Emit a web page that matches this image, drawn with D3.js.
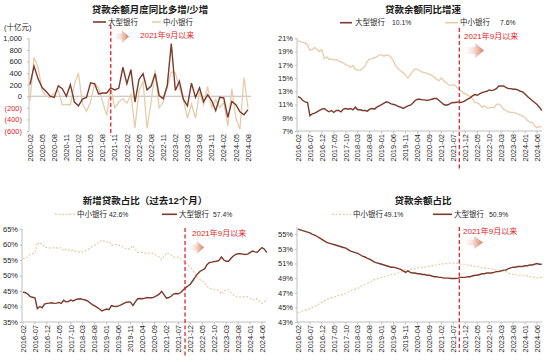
<!DOCTYPE html>
<html>
<head>
<meta charset="utf-8">
<script src="https://cdn.jsdelivr.net/npm/d3@7"></script>
<style>
  body { margin: 0; background: #fff; }
  text { font-family: "Liberation Sans", "Noto Sans CJK SC", sans-serif; }
</style>
</head>
<body>
<svg id="chart" width="550" height="362"></svg>
<script>
// month categories
function monthList(y, m, n) {
  let out = [];
  for (let i = 0; i < n; i++) {
    out.push(y + "-" + String(m).padStart(2, "0"));
    m++;
    if (m > 12) { m = 1; y++; }
  }
  return out;
}
let monthsShort = monthList(2020, 2, 55);   // 2020-02 .. 2024-08
let monthsLong = monthList(2016, 2, 103);   // 2016-02 .. 2024-08

// panel 1: 贷款余额月度同比多增/少增 (十亿元)
let bigDelta = [200, 520, 300, 150, 80, 0, -20, 180, 130, 0, 200,
  -100, -165, -50, -20, 230, 215, 40, 55, 55, 145, 110, 140,
  500, 215, 460, -100, 290, 390, 110, 175, 390, 10, -45, 185,
  910, 100, 260, -55, -165, 225, -20, 145, -95, 25, -75, -250,
  -20, -30, -365, -90, -145, -270, -320, -230];
let smallDelta = [-80, 670, 500, 100, 0, -20, 50, 100, -150, -140, -150,
  200, 400, -130, -260, -100, 230, 140, -100, -330, 150, -200, -100,
  -40, -120, 30, -550, 100, 250, -550, -100, 450, -200, -100, 150,
  420, 400, 150, -60, -380, -130, -380, 80, -150, 170, -200, -60,
  -200, -100, -520, 130, -380, -570, 320, -200];

// panel 2: 贷款余额同比增速 (%)
let bigGrowth = [12.2, 12.0, 11.6, 11.4, 11.3, 9.3, 9.6, 9.7, 9.9, 10.1, 10.3,
  10.4, 10.1, 9.9, 10.1, 9.8, 10.1, 10.1, 9.9, 10.3, 10.4, 10.3, 10.4,
  10.2, 10.6, 10.2, 10.2, 10.1, 10.1, 10.0, 10.3, 10.4, 10.3, 10.6, 10.8,
  11.0, 11.2, 11.4, 11.3, 11.1, 11.0, 10.9, 10.7, 10.6, 10.4, 10.6, 10.8,
  10.9, 11.2, 11.6, 11.8, 11.8, 11.7, 11.7, 11.6, 11.7, 11.8, 11.9, 11.9,
  11.6, 11.3, 11.0, 10.9, 11.0, 11.2, 11.3, 11.3, 11.4, 11.3, 11.4, 11.6,
  11.8, 12.0, 12.3, 12.5, 12.4, 12.6, 12.8, 12.9, 13.0, 13.2, 13.1, 13.2,
  13.4, 13.8, 13.8, 13.8, 13.6, 13.4, 13.4, 13.3, 13.3, 13.2, 13.0, 12.9,
  12.6, 12.2, 11.9, 11.6, 11.3, 11.0, 10.6, 10.1];
let smallGrowth = [20.6, 20.5, 20.4, 20.3, 20.0, 19.2, 19.3, 19.6, 19.3, 19.0, 19.3,
  17.9, 18.2, 17.8, 17.9, 17.7, 17.8, 17.6, 17.4, 17.3, 17.0, 16.9, 16.6,
  16.9, 16.3, 16.2, 16.2, 16.4, 16.8, 17.5, 17.9, 17.9, 18.1, 18.2, 18.5,
  18.5, 18.3, 18.5, 18.4, 18.1, 17.5, 16.8, 16.4, 16.1, 15.8, 15.4, 15.0,
  15.5, 16.0, 16.4, 16.3, 16.1, 15.9, 15.8, 15.7, 15.6, 15.4, 15.1, 14.8,
  14.6, 15.0, 14.6, 14.3, 14.0, 13.9, 14.0, 13.8, 13.4, 13.1, 12.8, 12.6,
  12.4, 12.2, 11.9, 11.3, 11.3, 11.0, 10.6, 10.8, 10.5, 10.5, 10.6, 10.5,
  11.0, 11.1, 10.8, 10.3, 10.1, 9.9, 9.8, 9.8, 9.7, 9.6, 9.4, 9.3,
  9.0, 8.6, 8.3, 8.3, 7.8, 7.5, 7.7, 7.6];

// panel 3: 新增贷款占比（过去12个月）(%)
let bigNewShare = [44.6, 44.5, 44.0, 43.2, 43.0, 42.8, 39.3, 40.0, 39.6, 40.8, 41.0,
  41.1, 41.2, 41.0, 41.1, 41.3, 41.0, 42.0, 41.5, 41.6, 42.1, 41.8, 42.2,
  42.4, 42.5, 42.3, 42.1, 41.8, 41.2, 40.6, 40.2, 39.7, 39.2, 38.6, 38.9,
  39.2, 39.0, 40.3, 40.1, 40.0, 40.2, 40.5, 40.9, 41.3, 41.5, 41.4, 40.3,
  41.5, 42.5, 42.6, 42.5, 42.7, 42.9, 42.8, 42.8, 43.1, 43.5, 44.0, 44.9,
  43.8, 42.7, 42.9, 43.3, 44.0, 44.2, 44.1, 44.5, 45.3, 46.0, 46.6, 47.2,
  48.3, 49.4, 50.5, 51.3, 51.7, 52.2, 53.5, 54.2, 54.3, 54.5, 54.6, 54.9,
  56.0, 55.0, 54.6, 54.6, 55.5, 56.3, 56.8, 57.0, 57.0, 56.9, 56.8, 56.9,
  57.4, 57.9, 57.6, 57.5, 58.3, 59.0, 58.5, 57.4];
let smallNewShare = [55.4, 55.5, 56.0, 56.8, 57.0, 57.2, 60.7, 60.0, 60.4, 59.2, 59.0,
  58.9, 58.8, 59.0, 58.9, 58.7, 59.0, 58.0, 58.5, 58.4, 57.9, 58.2, 57.8,
  57.6, 57.5, 57.7, 57.9, 58.2, 58.8, 59.4, 59.8, 60.3, 60.8, 61.4, 61.1,
  60.8, 61.0, 59.7, 59.9, 60.0, 59.8, 59.5, 59.1, 58.7, 58.5, 58.6, 59.7,
  58.5, 57.5, 57.4, 57.5, 57.3, 57.1, 57.2, 57.2, 56.9, 56.5, 56.0, 55.1,
  56.2, 57.3, 57.1, 56.7, 56.0, 55.8, 55.9, 55.5, 54.7, 54.0, 53.4, 52.8,
  51.7, 50.6, 49.5, 48.7, 48.3, 47.8, 46.5, 45.8, 45.7, 45.5, 45.4, 45.1,
  44.0, 45.0, 45.4, 45.4, 44.5, 43.7, 43.2, 43.0, 43.0, 43.1, 43.2, 43.1,
  42.6, 42.1, 42.4, 42.5, 41.7, 41.0, 41.5, 42.6];

// panel 4: 贷款余额占比 (%)
let bigStockShare = [55.7, 55.6, 55.5, 55.4, 55.3, 55.2, 55.0, 54.9, 54.7, 54.5, 54.3,
  54.1, 53.9, 53.8, 53.7, 53.6, 53.5, 53.4, 53.3, 53.2, 53.1, 52.9, 52.7,
  52.6, 52.5, 52.4, 52.2, 52.0, 51.9, 51.7, 51.6, 51.4, 51.2, 51.1, 51.0,
  50.9, 50.8, 50.7, 50.6, 50.5, 50.5, 50.4, 50.3, 50.2, 50.0, 49.8, 50.0,
  49.8, 49.7, 49.7, 49.6, 49.6, 49.5, 49.5, 49.4, 49.4, 49.3, 49.2, 49.2,
  49.1, 49.1, 49.0, 49.0, 49.0, 48.95, 48.95, 48.95, 49.0, 49.1, 49.1, 49.1,
  49.2, 49.2, 49.3, 49.4, 49.4, 49.5, 49.6, 49.6, 49.7, 49.7, 49.7, 49.8,
  49.9, 49.9, 50.0, 50.1, 50.1, 50.3, 50.4, 50.5, 50.5, 50.6, 50.6, 50.6,
  50.7, 50.7, 50.8, 50.8, 50.9, 51.0, 50.9, 50.9];
let smallStockShare = [44.3, 44.4, 44.5, 44.6, 44.7, 44.8, 45.0, 45.1, 45.3, 45.5, 45.7,
  45.9, 46.1, 46.2, 46.3, 46.4, 46.5, 46.6, 46.7, 46.8, 46.9, 47.1, 47.3,
  47.4, 47.5, 47.6, 47.8, 48.0, 48.1, 48.3, 48.4, 48.6, 48.8, 48.9, 49.0,
  49.1, 49.2, 49.3, 49.4, 49.5, 49.5, 49.6, 49.7, 49.8, 50.0, 50.2, 50.0,
  50.2, 50.3, 50.3, 50.4, 50.4, 50.5, 50.5, 50.6, 50.6, 50.7, 50.8, 50.8,
  50.9, 50.9, 51.0, 51.0, 51.0, 51.05, 51.05, 51.05, 51.0, 50.9, 50.9, 50.9,
  50.8, 50.8, 50.7, 50.6, 50.6, 50.5, 50.4, 50.4, 50.3, 50.3, 50.3, 50.2,
  50.1, 50.1, 50.0, 49.9, 49.9, 49.7, 49.6, 49.5, 49.5, 49.4, 49.4, 49.4,
  49.3, 49.3, 49.2, 49.2, 49.1, 49.0, 49.1, 49.1];

// tick labels
let ticksShort = ["2020-02", "2020-05", "2020-08", "2020-11", "2021-02", "2021-05", "2021-08",
  "2021-11", "2022-02", "2022-05", "2022-08", "2022-11", "2023-02", "2023-05", "2023-08",
  "2023-11", "2024-02", "2024-05", "2024-08"];
let ticksLong = ["2016-02", "2016-07", "2016-12", "2017-05", "2017-10", "2018-03", "2018-08",
  "2019-01", "2019-06", "2019-11", "2020-04", "2020-09", "2021-02", "2021-07", "2021-12",
  "2022-05", "2022-10", "2023-03", "2023-08", "2024-01", "2024-06"];
let yTicks1 = [1000, 800, 600, 400, 200, 0, -200, -400, -600];
let yTicks2 = [21, 19, 17, 15, 13, 11, 9, 7];
let yTicks3 = [65, 60, 55, 50, 45, 40, 35];
let yTicks4 = [55, 53, 51, 49, 47, 45, 43];

let titles = ["贷款余额月度同比多增/少增", "贷款余额同比增速", "新增贷款占比（过去12个月）", "贷款余额占比"];
let unitLabel = "(十亿元)";
let bigName = "大型银行", smallName = "中小银行";
let annot = "2021年9月以来";

let dark = "#7b3a2c", light = "#e6cdaa", red = "#e0262a";

let svg = d3.select("svg#chart");
let defs = svg.append("defs");
let grad = defs.append("linearGradient").attr("id", "arrowGrad");
grad.append("stop").attr("offset", "0%").attr("stop-color", "#fff").attr("stop-opacity", 0);
grad.append("stop").attr("offset", "100%").attr("stop-color", "#d4765a");

function drawPanel(p) {
  let g = svg.append("g");
  let x = d3.scaleLinear().domain([0, p.xSpan]).range(p.xRange);
  let y = d3.scaleLinear().domain(p.yDomain).range(p.yRange);

  g.append("text").attr("x", p.titleX).attr("y", p.titleY)
    .attr("text-anchor", "middle").attr("font-size", 9.5).attr("font-weight", "bold")
    .attr("fill", "#1a1a1a").text(p.title);

  if (p.unit) {
    g.append("text").attr("x", 4).attr("y", 30).attr("font-size", 7.5)
      .attr("fill", "#262626").text(p.unit);
  }

  // y axis
  let ya = g.append("g").attr("transform", "translate(" + p.axisX + ",0)")
    .call(d3.axisLeft(y).tickValues(p.yTicks).tickSize(2).tickFormat(p.yFormat));
  ya.select(".domain").attr("stroke", "#bfbfbf").attr("d", "M0," + y(p.yDomain[1]) + "V" + p.yRange[0]);
  ya.selectAll(".tick line").attr("stroke", "#bfbfbf");
  ya.selectAll(".tick text").attr("font-size", 7.5).attr("font-family", null)
    .attr("fill", d => p.negRed && d < 0 ? red : "#262626").attr("x", -p.labelGap);

  // x axis
  if (p.zeroLine) {
    g.append("line").attr("x1", p.axisX).attr("x2", p.xEnd)
      .attr("y1", y(0)).attr("y2", y(0)).attr("stroke", "#a6a6a6").attr("stroke-width", 0.8);
  } else {
    g.append("line").attr("x1", p.axisX).attr("x2", p.xEnd)
      .attr("y1", p.yRange[0]).attr("y2", p.yRange[0]).attr("stroke", "#bfbfbf");
  }
  let bottom = p.yRange[0];
  p.xTicks.forEach(function(t) {
    let xi = x(p.months.indexOf(t));
    if (!p.zeroLine) {
      g.append("line").attr("x1", xi).attr("x2", xi).attr("y1", bottom).attr("y2", bottom + 2.5)
        .attr("stroke", "#bfbfbf");
    }
    g.append("text").attr("transform", "translate(" + (xi + 2.7) + "," + (bottom + 3) + ") rotate(-90)")
      .attr("text-anchor", "end").attr("font-size", 7.5).attr("fill", "#262626").text(t);
  });

  // lines
  p.series.forEach(function(s) {
    let line = d3.line().x((d, i) => x(i)).y(d => y(d));
    g.append("path").datum(s.values).attr("d", line).attr("fill", "none")
      .attr("stroke", s.color).attr("stroke-width", s.width)
      .attr("stroke-dasharray", s.dash || null);
  });

  // red dashed marker
  let mx = x(p.months.indexOf(p.markMonth) + p.markShift);
  g.append("line").attr("x1", mx).attr("x2", mx).attr("y1", p.markY[0]).attr("y2", p.markY[1])
    .attr("stroke", red).attr("stroke-width", 1.3).attr("stroke-dasharray", "4,2.5");

  // arrow + note
  let a = p.arrow;
  let bx = a.x + a.w * 0.58;
  g.append("path").attr("fill", "url(#arrowGrad)")
    .attr("d", "M" + a.x + "," + (a.y + a.h * 0.27) + "H" + bx + "V" + a.y + "L" + (a.x + a.w) + "," + (a.y + a.h / 2) +
      "L" + bx + "," + (a.y + a.h) + "V" + (a.y + a.h * 0.73) + "H" + a.x + "Z");
  g.append("text").attr("x", p.noteX).attr("y", p.noteY).attr("font-size", 8)
    .attr("fill", red).text(annot);

  // legend
  p.legend.forEach(function(l) {
    g.append("line").attr("x1", l.x1).attr("x2", l.x2).attr("y1", p.legendY).attr("y2", p.legendY)
      .attr("stroke", l.color).attr("stroke-width", l.dash ? 1.3 : 1.6).attr("stroke-dasharray", l.dash || null);
    g.append("text").attr("x", l.tx).attr("y", p.legendY + 2.7).attr("font-size", 7.5)
      .attr("fill", "#262626").text(l.label);
    if (l.val) {
      g.append("text").attr("x", l.vx).attr("y", p.legendY + 2.7).attr("font-size", 6.8)
        .attr("fill", "#262626").text(l.val);
    }
  });
}

let pctFmt = d => d + "%";
let numFmt = d => d < 0 ? "(" + d3.format(",")(-d) + ")" : d3.format(",")(d);

drawPanel({
  title: titles[0], titleX: 150, titleY: 13, unit: unitLabel,
  months: monthsShort, xSpan: 54, xRange: [30, 248], axisX: 29, xEnd: 251,
  yDomain: [-600, 1000], yRange: [131, 38.3], yTicks: yTicks1, yFormat: numFmt, negRed: true, labelGap: 7,
  zeroLine: true, xTicks: ticksShort,
  series: [{ values: smallDelta, color: light, width: 1.3 }, { values: bigDelta, color: dark, width: 1.4 }],
  markMonth: "2021-10", markShift: 0, markY: [25, 136],
  arrow: { x: 112, y: 30, w: 17, h: 13 }, noteX: 140, noteY: 37.5,
  legendY: 22,
  legend: [{ x1: 93, x2: 106, tx: 108, label: bigName, color: dark },
           { x1: 152, x2: 161, tx: 163, label: smallName, color: light }]
});
drawPanel({
  title: titles[1], titleX: 423, titleY: 13,
  months: monthsLong, xSpan: 100, xRange: [298, 537], axisX: 297, xEnd: 542,
  yDomain: [7, 21], yRange: [131, 38.3], yTicks: yTicks2, yFormat: pctFmt, labelGap: 4,
  xTicks: ticksLong,
  series: [{ values: smallGrowth, color: light, width: 1.3 }, { values: bigGrowth, color: dark, width: 1.4 }],
  markMonth: "2021-09", markShift: 0.5, markY: [28, 171],
  arrow: { x: 463, y: 43, w: 21, h: 15 }, noteX: 464, noteY: 39,
  legendY: 22.7,
  legend: [{ x1: 340, x2: 352, tx: 355, label: bigName, color: dark, val: "10.1%", vx: 392 },
           { x1: 445, x2: 458, tx: 460, label: smallName, color: light, val: "7.6%", vx: 500 }]
});
drawPanel({
  title: titles[2], titleX: 145, titleY: 204,
  months: monthsLong, xSpan: 100, xRange: [23, 262], axisX: 22, xEnd: 266,
  yDomain: [35, 65], yRange: [322, 229], yTicks: yTicks3, yFormat: pctFmt, labelGap: 4,
  xTicks: ticksLong,
  series: [{ values: smallNewShare, color: "#e3c9a3", width: 1.2, dash: "1.8,1.8" }, { values: bigNewShare, color: dark, width: 1.4 }],
  markMonth: "2021-09", markShift: 0.8, markY: [228, 357],
  arrow: { x: 187, y: 241, w: 17, h: 13 }, noteX: 192, noteY: 236,
  legendY: 214.3,
  legend: [{ x1: 55, x2: 75, tx: 77, label: smallName, color: "#e3c9a3", dash: "1.8,1.8", val: "42.6%", vx: 109 },
           { x1: 162, x2: 177, tx: 179, label: bigName, color: dark, val: "57.4%", vx: 213 }]
});
drawPanel({
  title: titles[3], titleX: 423, titleY: 204,
  months: monthsLong, xSpan: 100, xRange: [298, 537], axisX: 297, xEnd: 542,
  yDomain: [43, 56], yRange: [322, 227], yTicks: yTicks4, yFormat: pctFmt, labelGap: 4,
  xTicks: ticksLong,
  series: [{ values: smallStockShare, color: "#e3c9a3", width: 1.2, dash: "1.8,1.8" }, { values: bigStockShare, color: dark, width: 1.4 }],
  markMonth: "2021-09", markShift: 0.5, markY: [227, 352],
  arrow: { x: 462, y: 236, w: 21, h: 13 }, noteX: 463, noteY: 234,
  legendY: 214.3,
  legend: [{ x1: 332, x2: 351, tx: 353, label: smallName, color: "#e3c9a3", dash: "1.8,1.8", val: "49.1%", vx: 384 },
           { x1: 433, x2: 452, tx: 454, label: bigName, color: dark, val: "50.9%", vx: 489 }]
});
</script>
</body>
</html>
